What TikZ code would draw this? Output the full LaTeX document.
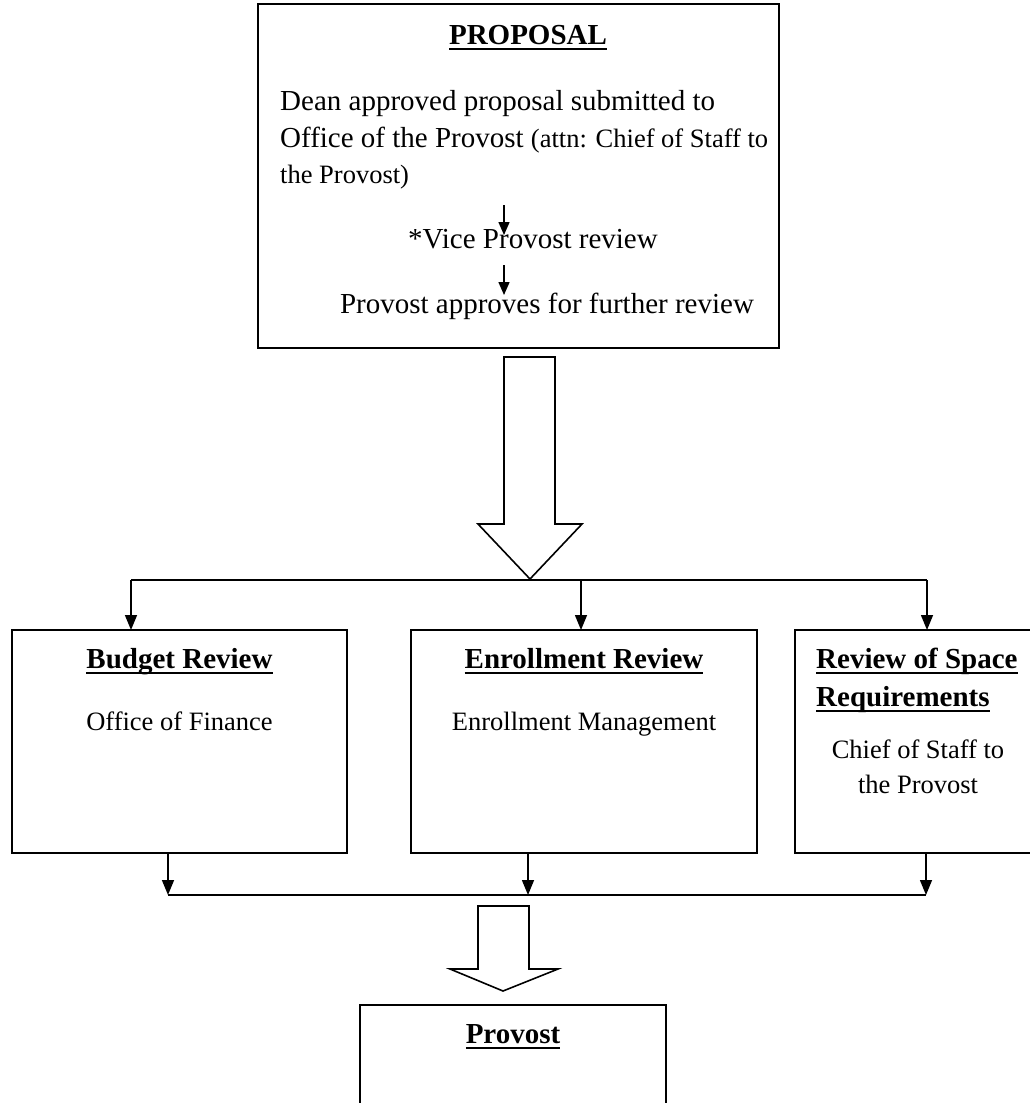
\documentclass[tikz,border=0pt]{standalone}
\usepackage{fontspec}
\setmainfont{Liberation Serif}
\usetikzlibrary{arrows.meta}
\newcommand\ulin[1]{\setbox0=\hbox{#1}\rlap{\rule[-6pt]{\wd0}{2.2pt}}\box0}
\newcommand\bigtxt{\fontsize{29}{36}\selectfont}
\newcommand\smtxt{\fontsize{26.5}{34}\selectfont}
\begin{document}
\begin{tikzpicture}[x=1pt,y=-1pt,
  box/.style={draw, line width=1.7pt, inner sep=0, outer sep=0},
  txt/.style={inner sep=0, anchor=base},
  txtw/.style={inner sep=0, anchor=base west},
  arr/.style={line width=1.5pt, -{Triangle[length=15pt,width=12pt]}},
  sarr/.style={line width=1.5pt, -{Triangle[length=13pt,width=11pt]}},
  hollow/.style={draw, line width=1.6pt, fill=white, line join=miter},
  conn/.style={line width=1.5pt}]
\useasboundingbox (0,0) rectangle (1030,1103);
\clip (0,0) rectangle (1030,1103);

% boxes
\node[box, minimum width=521pt, minimum height=344pt] (prop) at (518.5,176) {};
\node[box, minimum width=335pt, minimum height=223pt] (budget) at (179.5,741.5) {};
\node[box, minimum width=346pt, minimum height=223pt] (enroll) at (584,741.5) {};
\node[box, minimum width=246pt, minimum height=223pt] (space) at (918,741.5) {};
\node[box, minimum width=306pt, minimum height=150pt] (provost) at (513,1080) {};

% proposal texts
\node[txt] (ptitle) at (528,44) {\bigtxt\bfseries\ulin{PROPOSAL}};
\node[txtw] (l1) at (280,110) {\bigtxt Dean approved proposal submitted to};
\node[txtw] (l2) at (280,147) {\bigtxt Office of the Provost \smtxt(attn: Chief of Staff to};
\node[txtw] (l3) at (280,183) {\smtxt the Provost)};
\node[txt] (vp) at (533,248) {\bigtxt *Vice Provost review};
\node[txt] (pa) at (547,313) {\bigtxt Provost approves for further review};
\coordinate (a1s) at (504,205); \coordinate (a1e) at (504,235);
\coordinate (a2s) at (504,265); \coordinate (a2e) at (504,295);
\draw[sarr] (a1s) -- (a1e);
\draw[sarr] (a2s) -- (a2e);

% big hollow arrow
\draw[hollow] (504,357) -- (555,357) -- (555,524) -- (582,524) -- (530,579) -- (478,524) -- (504,524) -- cycle;

% distribution line
\coordinate (j1) at (131,580); \coordinate (j2) at (581,580); \coordinate (j3) at (927,580);
\draw[conn] (j1) -- (j3);
\draw[arr] (j1) -- (j1 |- budget.north);
\draw[arr] (j2) -- (j2 |- enroll.north);
\draw[arr] (j3) -- (j3 |- space.north);

% review box texts
\node[txt] (bt) at (179.5,668) {\bigtxt\bfseries\ulin{Budget Review}};
\node[txt] (bb) at (179.5,730) {\smtxt Office of Finance};
\node[txt] (et) at (584,668) {\bigtxt\bfseries\ulin{Enrollment Review}};
\node[txt] (eb) at (584,730) {\smtxt Enrollment Management};
\node[txtw] (st1) at (816,668) {\bigtxt\bfseries\ulin{Review of Space}};
\node[txtw] (st2) at (816,706) {\bigtxt\bfseries\ulin{Requirements}};
\node[txt] (sb1) at (918,758) {\smtxt Chief of Staff to};
\node[txt] (sb2) at (918,793) {\smtxt the Provost};

% collection line
\coordinate (b1) at (168,895); \coordinate (b2) at (528,895); \coordinate (b3) at (926,895);
\draw[arr] (b1 |- budget.south) -- (b1);
\draw[arr] (b2 |- enroll.south) -- (b2);
\draw[arr] (b3 |- space.south) -- (b3);
\draw[conn] (b1) -- (b3);

% small hollow arrow
\draw[hollow] (478,906) -- (529,906) -- (529,969) -- (558,969) -- (503,991) -- (450,969) -- (478,969) -- cycle;

% provost
\node[txt] (pt) at (513,1043) {\bigtxt\bfseries\ulin{Provost}};
\end{tikzpicture}
\end{document}
